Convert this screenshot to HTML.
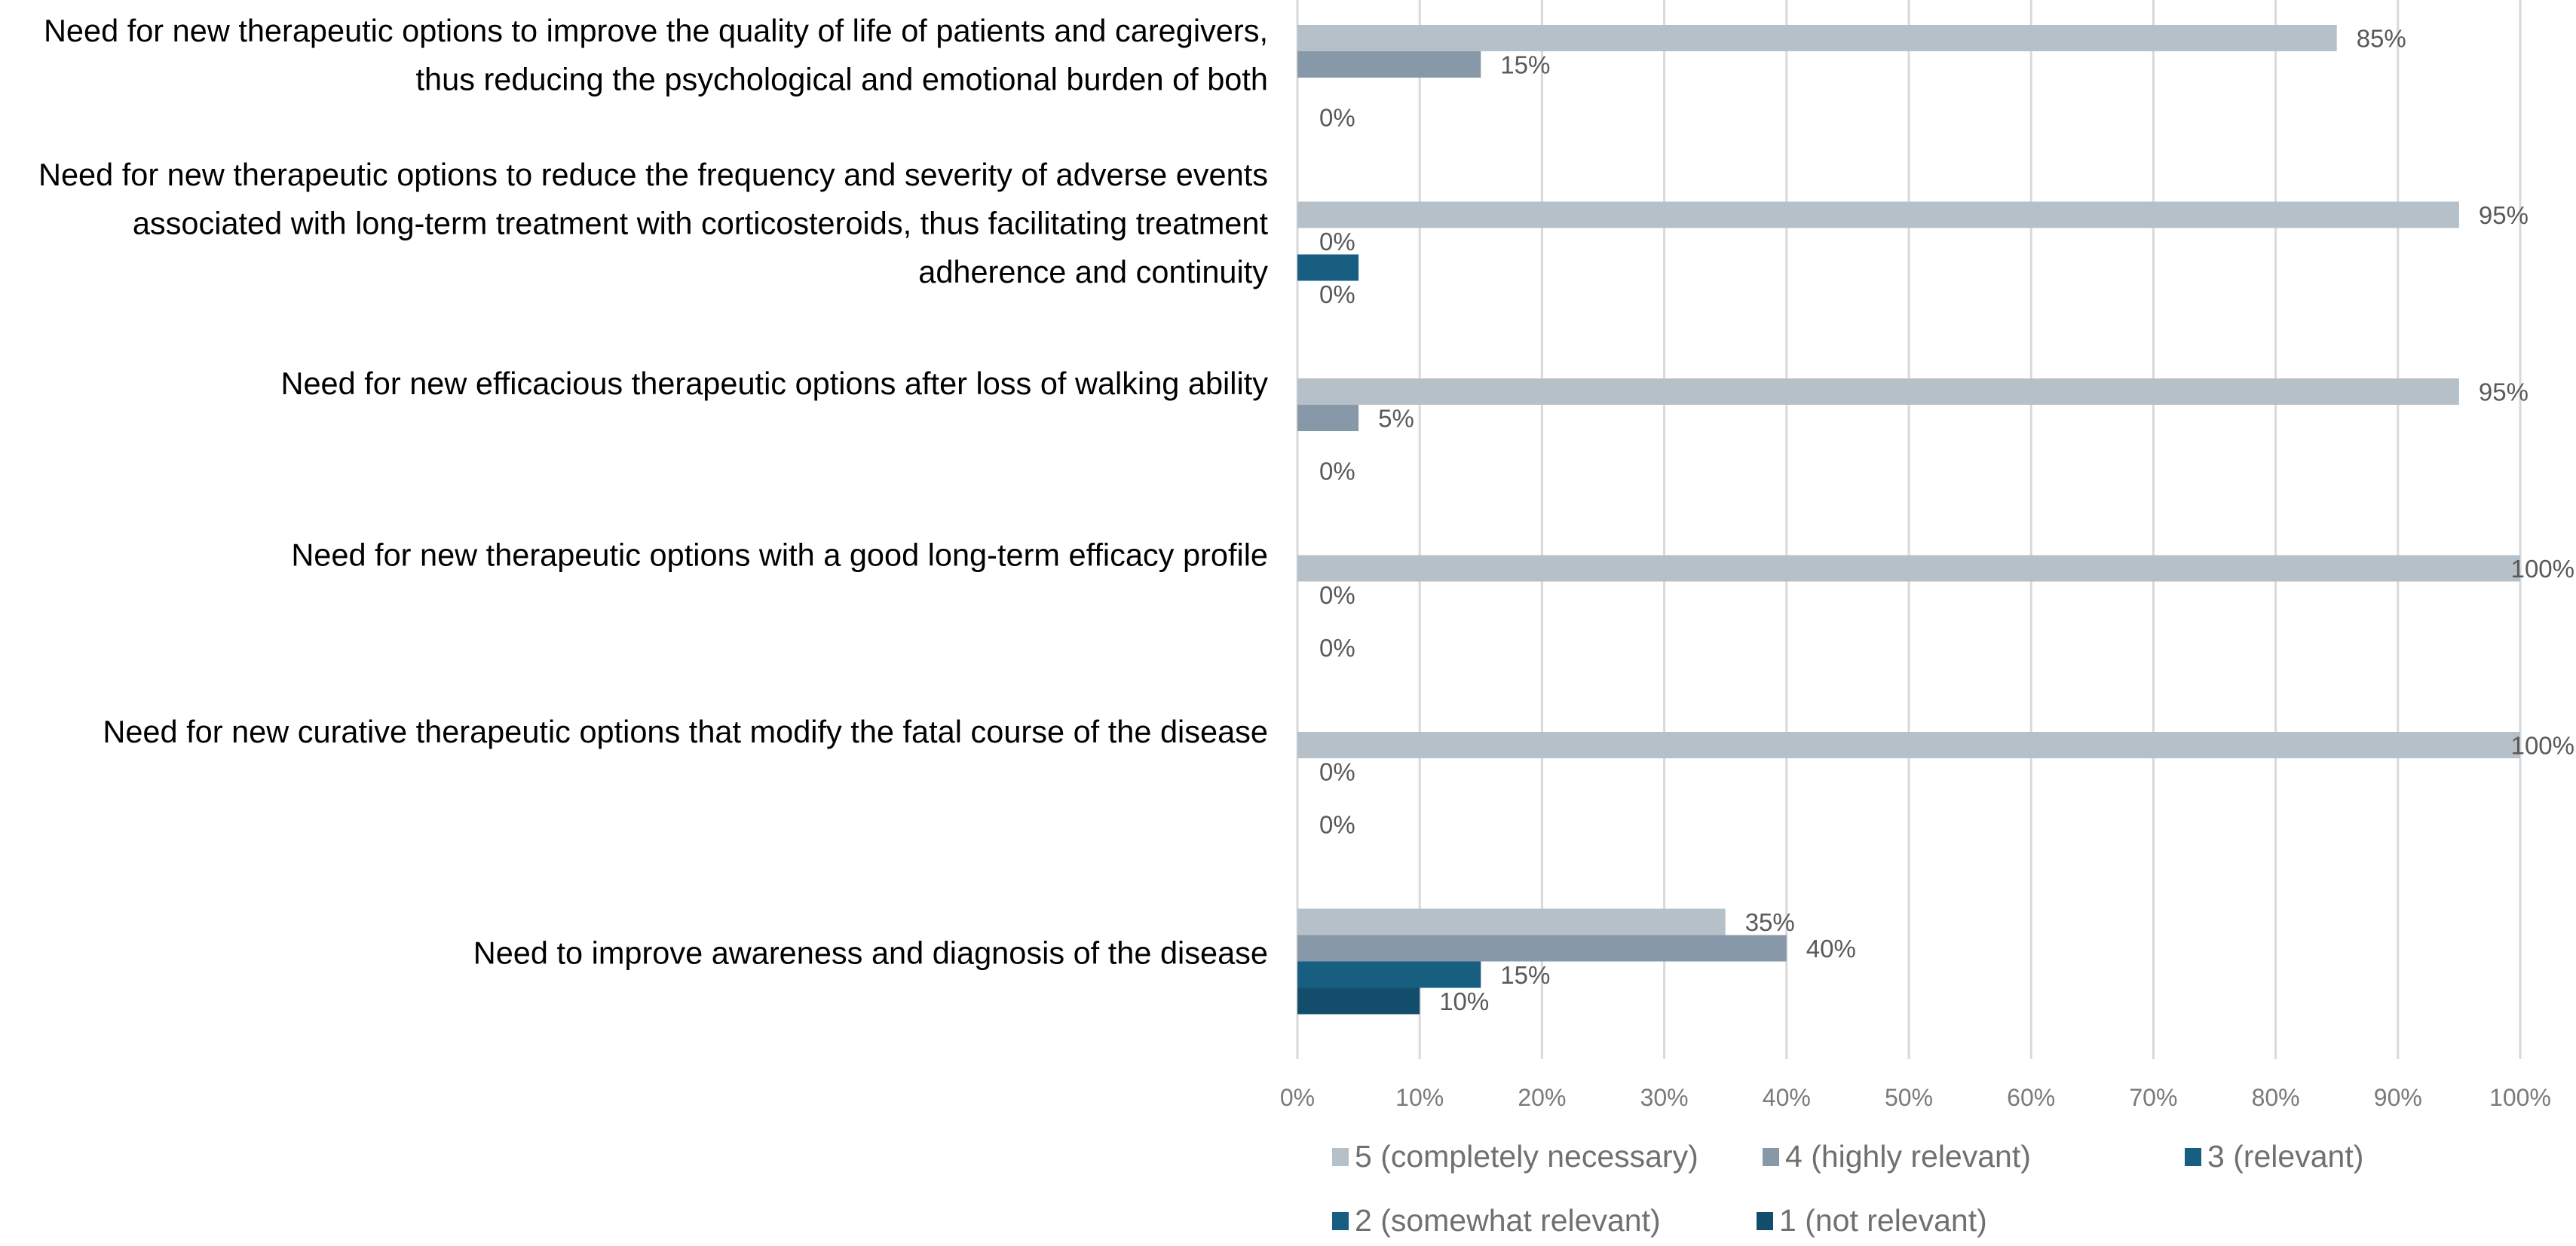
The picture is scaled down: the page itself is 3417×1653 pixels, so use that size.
<!DOCTYPE html>
<html><head><meta charset="utf-8">
<style>
html,body{margin:0;padding:0;background:#fff;}
svg{display:block;}
</style></head>
<body>
<svg id="chart" width="3417" height="1653" viewBox="0 0 3417 1653" xmlns="http://www.w3.org/2000/svg" font-family="'Liberation Sans', sans-serif">
<g id="grid"></g><g id="bars"></g><g id="labels"></g><g id="cats"></g><g id="ticks"></g><g id="legend"></g>
</svg>
<script>
const categories = [
 ["Need for new therapeutic options to improve the quality of life of patients and caregivers,","thus reducing the psychological and emotional burden of both"],
 ["Need for new therapeutic options to reduce the frequency and severity of adverse events","associated with long-term treatment with corticosteroids, thus facilitating treatment","adherence and continuity"],
 ["Need for new efficacious therapeutic options after loss of walking ability"],
 ["Need for new therapeutic options with a good long-term efficacy profile"],
 ["Need for new curative therapeutic options that modify the fatal course of the disease"],
 ["Need to improve awareness and diagnosis of the disease"]
];
const seriesNames = ["5 (completely necessary)","4 (highly relevant)","3 (relevant)","2 (somewhat relevant)","1 (not relevant)"];
const s5 = [85,95,95,100,100,35];
const s4 = [15,0,5,0,0,40];
const s3 = [0,5,0,0,0,15];
const s2 = [0,0,0,0,0,10];
const showLabel3 = [false,false,false,false,false,true];
const ticks = [0,10,20,30,40,50,60,70,80,90,100];
const colors = ["#b6c0c8","#8799a9","#175e80","#175e80","#124e6c"];
const barColors = ["#b6c0c8","#8799a9","#175e80","#124e6c"];
const NS="http://www.w3.org/2000/svg";
const x0=1721, x1=3343;
const xs=v=>x0+(x1-x0)*v/100;
const catY=i=>33+234.5*i;
const labelOffset=[40,29,7,0,0,59];
const slotH=35;
function mk(tag,attrs,parent,txt){const e=document.createElementNS(NS,tag);for(const k in attrs)e.setAttribute(k,attrs[k]);if(txt!==undefined)e.textContent=txt;document.getElementById(parent).appendChild(e);return e;}
ticks.forEach(t=>{
 const l=mk('line',{x1:xs(t),x2:xs(t),y1:0,y2:1405,stroke:'#d9d9d9','stroke-width':3},'grid');
 
 
 const tx=mk('text',{x:xs(t),y:1467,'text-anchor':'middle','font-size':32,fill:'#7a7a7a'},'ticks',t+'%');
 
 
});
const series=[s5,s4,s3,s2];
categories.forEach((lines,i)=>{
 series.forEach((arr,j)=>{
  const v=arr[i], top=catY(i)+slotH*j;
  if(v>0){
   const r=mk('rect',{x:x0,y:top,width:xs(v)-x0,height:slotH,fill:barColors[j]},'bars');
   
   
  }
  const show = j===2 ? showLabel3[i] : true;
  if(show){
   let lx = v>0 ? xs(v)+26 : 1750;
   let anchor='start';
   if(lx+90>3417){lx=3415;anchor='end';}
   const t=mk('text',{x:lx,y:top+slotH/2+12,'font-size':33,fill:'#595959','text-anchor':anchor},'labels',v+'%');
   
   
  }
 });
 const cy = catY(i)+labelOffset[i];
 const n=lines.length, lh=64.5;
 lines.forEach((s,k)=>{
  const t=mk('text',{x:1682,y:cy+(k-(n-1)/2)*lh+14,'text-anchor':'end','font-size':41.5,fill:'#000'},'cats',s);
  
  
 });
});
const legPos=[[1767,1545],[2338,1545],[2898,1545],[1767,1630],[2330,1630]];
seriesNames.forEach((s,i)=>{
 const [lx,ly]=legPos[i];
 const g=mk('g',{},'legend');
 
 
 const r=document.createElementNS(NS,'rect');
 r.setAttribute('x',lx);r.setAttribute('y',ly-22);r.setAttribute('width',22);r.setAttribute('height',24);r.setAttribute('fill',colors[i]);
 
 
 g.appendChild(r);
 const t=document.createElementNS(NS,'text');
 t.setAttribute('x',lx+30);t.setAttribute('y',ly+3);t.setAttribute('font-size',41);t.setAttribute('fill','#707070');
 t.textContent=s;
 
 
 g.appendChild(t);
});
</script>
</body></html>
